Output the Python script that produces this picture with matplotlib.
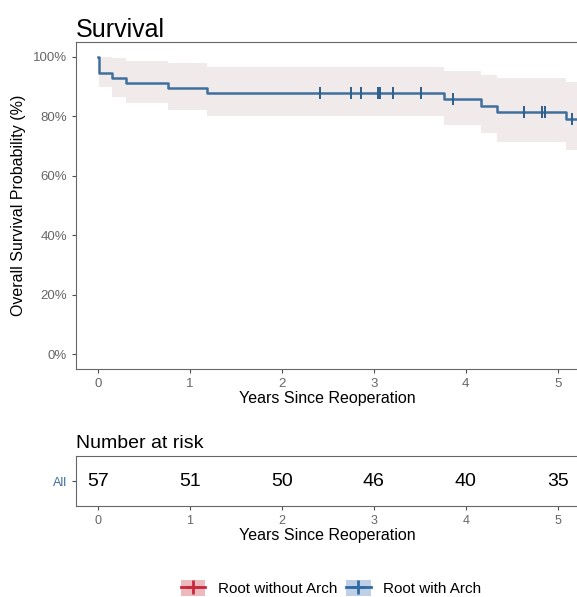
import matplotlib.pyplot as plt
from matplotlib.patches import Patch
from matplotlib.lines import Line2D
from matplotlib.ticker import PercentFormatter

plt.rcParams['font.family'] = ['Liberation Sans', 'DejaVu Sans']

# Kaplan-Meier steps
step_times = [0, 0.01, 0.15, 0.30, 0.76, 1.18, 3.76, 4.17, 4.34, 5.09, 5.3]
surv = [1.0, 0.947, 0.930, 0.912, 0.895, 0.877, 0.857, 0.836, 0.815, 0.792, 0.792]
lower = [1.0, 0.899, 0.866, 0.846, 0.822, 0.800, 0.772, 0.745, 0.715, 0.688, 0.688]
upper = [1.0, 1.0, 0.997, 0.987, 0.980, 0.966, 0.953, 0.940, 0.930, 0.916, 0.916]

censor_times = [2.41, 2.75, 2.86, 3.04, 3.07, 3.21, 3.51, 3.86, 4.63, 4.83, 4.86, 5.16]
censor_surv = [0.877, 0.877, 0.877, 0.877, 0.877, 0.877, 0.877, 0.857, 0.815, 0.815, 0.815, 0.792]

risk_times = [0, 1, 2, 3, 4, 5]
risk_counts = [57, 51, 50, 46, 40, 35]

line_col = "#3f6f9c"
band_col = "#f1eaea"
grey = "#4d4d4d"
spine_col = "#666666"

W, H = 577, 597
fig = plt.figure(figsize=(W/100, H/100), dpi=100)

# main survival plot
ax = fig.add_axes([76/W, 1-369/H, 502/W, (369-42)/H])
ax.fill_between(step_times, lower, upper, step="post", color=band_col, linewidth=0)
ax.step(step_times, surv, where="post", color=line_col, linewidth=1.8)
ax.plot(censor_times, censor_surv, linestyle="none", marker="|", markersize=8,
        markeredgewidth=1.4, color="#2c5f8c")
ax.set_xlim(-0.24, 5.22)
ax.set_ylim(-0.05, 1.05)
ax.set_yticks([0, 0.2, 0.4, 0.6, 0.8, 1.0])
ax.yaxis.set_major_formatter(PercentFormatter(1.0, decimals=0))
ax.set_xticks(risk_times)
ax.tick_params(colors=grey, labelsize=9.5, length=3, width=0.8)
ax.tick_params(labelcolor="#666666")
for s in ax.spines.values():
    s.set_color(spine_col)
    s.set_linewidth(0.8)
ax.set_xlabel("Years Since Reoperation", fontsize=11.5, labelpad=1)
ax.set_ylabel("Overall Survival Probability (%)", fontsize=11.5, labelpad=5)
ax.set_title("Survival", loc="left", fontsize=18, pad=3)

# number at risk table
rax = fig.add_axes([76/W, 1-506/H, 502/W, 50/H])
for t, n in zip(risk_times, risk_counts):
    rax.text(t, 0, str(n), ha="center", va="center", fontsize=14)
rax.set_xlim(-0.24, 5.22)
rax.set_ylim(-0.5, 0.5)
rax.set_xticks(risk_times)
rax.set_yticks([0])
rax.set_yticklabels(["All"])
rax.tick_params(colors=grey, labelsize=9, length=3, width=0.8)
rax.tick_params(labelcolor="#666666")
rax.tick_params(axis="y", labelcolor=line_col, labelsize=9)
for s in rax.spines.values():
    s.set_color(spine_col)
    s.set_linewidth(0.8)
rax.set_xlabel("Years Since Reoperation", fontsize=11.5, labelpad=1)
rax.set_title("Number at risk", loc="left", fontsize=14, pad=6)

# legend
handles = [
    (Patch(facecolor="#ecb9bd", edgecolor="none"),
     Line2D([], [], color="#c8283c", marker="+", markersize=10, markeredgewidth=2, linewidth=2)),
    (Patch(facecolor="#bfd0e6", edgecolor="none"),
     Line2D([], [], color="#2f6ca3", marker="+", markersize=10, markeredgewidth=2, linewidth=2)),
]
fig.legend(handles, ["Root without Arch", "Root with Arch"], loc="center",
           bbox_to_anchor=(331/W, 1-588/H), ncol=2, frameon=False,
           fontsize=11, handlelength=1.6, handleheight=1.2,
           columnspacing=0.6, handletextpad=0.8)

fig.savefig("out.png", dpi=100)
